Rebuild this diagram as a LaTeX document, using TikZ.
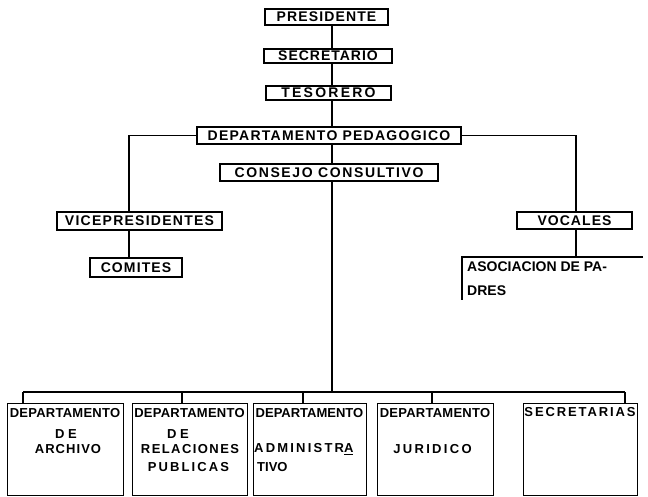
\documentclass[tikz,border=0pt]{standalone}
\usepackage{fontspec}
\setmainfont{Liberation Sans}
\newcommand{\lsp}[2]{{\addfontfeature{LetterSpace=#1}#2}}
\begin{document}
\begin{tikzpicture}[x=1pt,y=-1pt,
  box/.style={draw, line width=1.1pt, inner sep=0pt},
  lbl/.style={inner sep=0pt, font=\fontsize{14}{16}\selectfont\bfseries},
  lbs/.style={inner sep=0pt, font=\fontsize{13}{15}\selectfont\bfseries},
  conn/.style={line width=1.1pt}]
\useasboundingbox[fill=white] (0,0) rectangle (648,497);

% helper coordinates for connector lines
\coordinate (sp) at (332,0);
\coordinate (vl) at (129,0);
\coordinate (vr) at (576,0);

% top chain
\node[box, lbl, minimum width=123pt, minimum height=16pt] (pres) at (326.5,17) {\lsp{8}{PRESIDENTE}};
\node[box, lbl, minimum width=128pt, minimum height=14pt] (sec) at (328,56) {\lsp{7}{SECRETARIO}};
\node[box, lbl, minimum width=125pt, minimum height=14pt] (tes) at (328.5,93) {\lsp{16}{TESORERO}};
\node[box, lbl, minimum width=264pt, minimum height=17pt] (ped) at (329,135.5) {\lsp{9}{DEPARTAMENTO PEDAGOGICO}};
\node[box, lbl, minimum width=218pt, minimum height=17pt] (con) at (329,172.5) {\lsp{11.5}{CONSEJO CONSULTIVO}};

% left branch
\node[box, lbl, minimum width=165pt, minimum height=18pt] (vice) at (139.5,221) {\lsp{9}{VICEPRESIDENTES}};
\node[box, lbl, minimum width=92pt, minimum height=19pt] (com) at (136,267.5) {\lsp{8}{COMITES}};

% right branch
\node[box, lbl, minimum width=115pt, minimum height=17pt] (voc) at (574.5,220.5) {\lsp{7.5}{VOCALES}};
\coordinate (asoTL) at (462,257);
\coordinate (asoTR) at (643,257);
\coordinate (asoBL) at (462,300);
\node[lbl, anchor=west] (aso1) at (467,267) {ASOCIACION DE PA-};
\node[lbl, anchor=west] (aso2) at (467,291) {DRES};

% bottom boxes
\node[box, anchor=north west, minimum width=116pt, minimum height=92pt] (b1) at (7,403) {};
\node[box, anchor=north west, minimum width=115pt, minimum height=92pt] (b2) at (132,403) {};
\node[box, anchor=north west, minimum width=113pt, minimum height=92pt] (b3) at (253,403) {};
\node[box, anchor=north west, minimum width=116pt, minimum height=92pt] (b4) at (377,403) {};
\node[box, anchor=north west, minimum width=114pt, minimum height=92pt] (b5) at (523,403) {};

% bottom texts
\node[lbs] (t1a) at (65,413) {\lsp{2}{DEPARTAMENTO}};
\node[lbs] (t1b) at (66,434) {\lsp{27}{DE}};
\node[lbs] (t1c) at (68,449) {\lsp{8}{ARCHIVO}};

\node[lbs] (t2a) at (189.5,413) {\lsp{2}{DEPARTAMENTO}};
\node[lbs] (t2b) at (178,434) {\lsp{27}{DE}};
\node[lbs] (t2c) at (190,449) {\lsp{11}{RELACIONES}};
\node[lbs] (t2d) at (188.5,467) {\lsp{16}{PUBLICAS}};

\node[lbs] (t3a) at (309.5,413) {\lsp{0}{DEPARTAMENTO}};
\node[lbs, anchor=west] (t3b) at (254,449) {\lsp{17}{ADMINISTR\underline{A}}};
\node[lbs, anchor=west] (t3c) at (257,467) {TIVO};

\node[lbs] (t4a) at (435,413) {\lsp{2}{DEPARTAMENTO}};
\node[lbs] (t4b) at (432.5,449) {\lsp{18}{JURIDICO}};

\node[lbs] (t5a) at (580,412) {\lsp{14.5}{SECRETARIAS}};

% connectors
\draw[conn] (pres.south -| sp) -- (sec.north -| sp);
\draw[conn] (sec.south -| sp) -- (tes.north -| sp);
\draw[conn] (tes.south -| sp) -- (ped.north -| sp);
\draw[conn] (ped.south -| sp) -- (con.north -| sp);

\draw[conn] (ped.west) -| (vl |- vice.north);
\draw[conn] (vl |- vice.south) -- (vl |- com.north);

\draw[conn] (ped.east) -| (vr |- voc.north);
\draw[conn] (vr |- voc.south) -- (vr |- asoTL);
\draw[conn] (asoTR) -- (asoTL) -- (asoBL);

\coordinate (bus1) at (23,392);
\coordinate (bus2) at (182,392);
\coordinate (bus3) at (303,392);
\coordinate (bus4) at (432,392);
\coordinate (bus5) at (625,392);
\draw[conn] (con.south -| sp) -- (sp |- bus1);
\draw[conn] (bus1) -- (bus5);
\draw[conn] (bus1) -- (bus1 |- b1.north);
\draw[conn] (bus2) -- (bus2 |- b2.north);
\draw[conn] (bus3) -- (bus3 |- b3.north);
\draw[conn] (bus4) -- (bus4 |- b4.north);
\draw[conn] (bus5) -- (bus5 |- b5.north);
\end{tikzpicture}
\end{document}
